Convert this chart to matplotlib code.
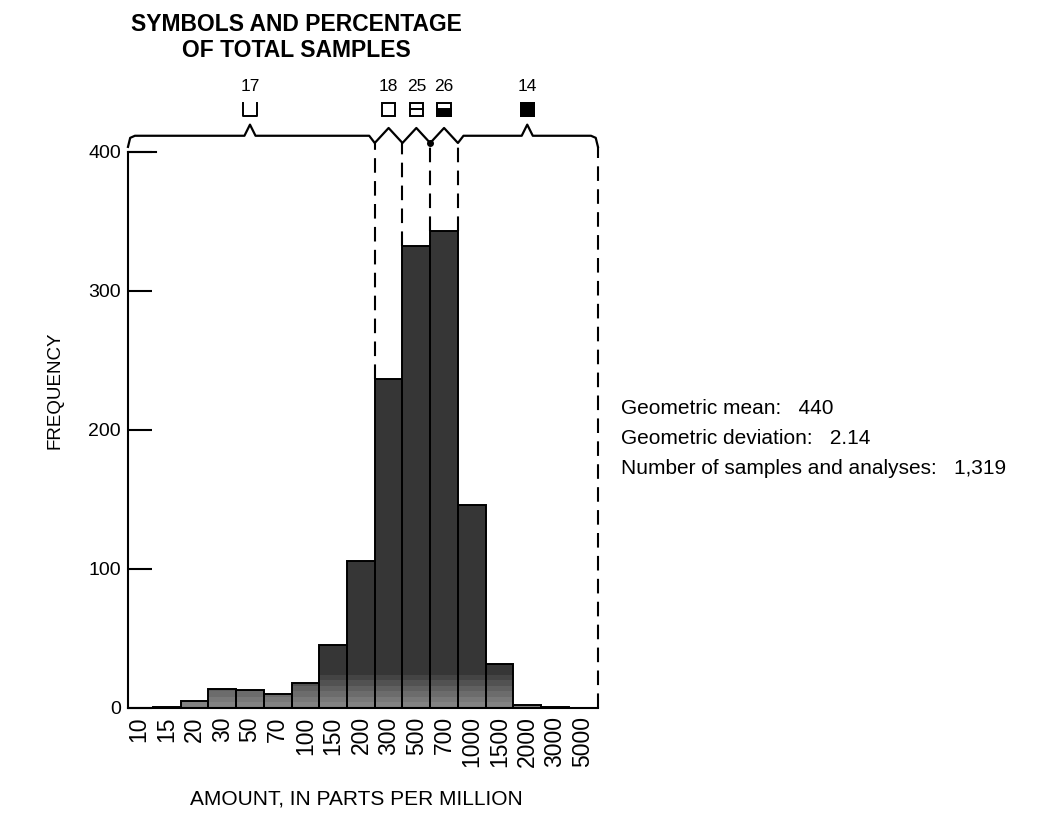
import matplotlib
matplotlib.use("Agg")
import matplotlib.pyplot as plt
from matplotlib.patches import Rectangle

plt.rcParams['font.family'] = ['Liberation Sans', 'DejaVu Sans']

# ---- data ----
bin_labels = ["10", "15", "20", "30", "50", "70", "100", "150", "200", "300",
              "500", "700", "1000", "1500", "2000", "3000", "5000"]
frequency = [0, 1, 5, 14, 13, 10, 18, 45, 106, 237, 332, 343, 146, 32, 2, 1, 0]
y_ticks = [0, 100, 200, 300, 400]
group_percent = ["17", "18", "25", "26", "14"]
group_edges = [-0.4, 8.5, 9.5, 10.5, 11.5, 16.55]   # class boundaries (bar index units)
stats_lines = ["Geometric mean:   440",
               "Geometric deviation:   2.14",
               "Number of samples and analyses:   1,319"]

fig = plt.figure(figsize=(10.43, 8.30), dpi=100)
ax = fig.add_axes([0.1227, 0.147, 0.4506, 0.670])

x = list(range(len(bin_labels)))
# halftone look: dark body fading to a lighter grey near the base
ax.bar(x, frequency, width=1.0, color="#363636", edgecolor="none", linewidth=0)
band_levels = [24, 20, 16, 12, 8, 4]
band_colors = ["#444444", "#525252", "#606060", "#6c6c6c", "#787878", "#828282"]
for lev, col in zip(band_levels, band_colors):
    ax.bar(x, [min(v, lev) for v in frequency], width=1.0, color=col,
           edgecolor="none", linewidth=0)
ax.bar(x, frequency, width=1.0, color="none", edgecolor="black", linewidth=1.4)

ax.set_xlim(group_edges[0], group_edges[-1])
ax.set_ylim(0, 400)

for s in ["top", "right"]:
    ax.spines[s].set_visible(False)
ax.spines["left"].set_linewidth(1.5)
ax.spines["bottom"].set_linewidth(1.5)

ax.set_yticks(y_ticks)
ax.set_yticklabels([str(v) for v in y_ticks], fontsize=14)
ax.tick_params(axis="y", direction="in", length=17, width=1.5, pad=5)
# long tick at top of frequency axis
ax.plot([group_edges[0], group_edges[0] + 1.0], [400, 400], color="black", lw=1.5, clip_on=False)

ax.set_xticks(x)
ax.set_xticklabels(bin_labels, rotation=90, fontsize=16.5)
ax.tick_params(axis="x", length=0, pad=6)

fig.text(0.342, 0.037, "AMOUNT, IN PARTS PER MILLION", ha="center", va="center", fontsize=15)
fig.text(0.053, 0.530, "FREQUENCY", ha="center", va="center", rotation=90, fontsize=13.5)

# ---- brace over the classes ----
yb = 411.6      # brace baseline
ypk = 419.6     # big peaks
yzu = 417.2     # zigzag peaks
yv = 406.4      # V points
yh = 403.6      # end hooks
L, R = group_edges[0], group_edges[-1]
bx = [L, L + 0.08, L + 0.25, 3.8, 4.0, 4.2, 8.3, 8.5, 9.0, 9.5, 10.0, 10.5, 11.0, 11.5,
      11.7, 13.8, 14.0, 14.2, R - 0.25, R - 0.08, R]
by = [yh, yb - 1.5, yb, yb, ypk, yb, yb, yv, yzu, yv, yzu, yv, yzu, yv,
      yb, yb, ypk, yb, yb, yb - 1.5, yh]
ax.plot(bx, by, color="black", lw=1.6, clip_on=False, solid_joinstyle="round")
ax.plot([10.5], [yv], marker="o", ms=4, color="black", clip_on=False)

# dashed dividers
for e in group_edges[1:-1]:
    i0 = int(e - 0.5)
    top = max(frequency[i0], frequency[i0 + 1])
    ax.plot([e, e], [top, yv], color="black", lw=1.5, ls=(0, (7, 4)), clip_on=False)
ax.plot([R, R], [0, yh], color="black", lw=1.5, ls=(0, (7, 4)), clip_on=False)

# percentage labels and symbols
centers = [4.0, 9.0, 10.0, 11.0, 14.0]
sw, sh = 0.48, 9.5
ysym = 430.5
for k, (c, p) in enumerate(zip(centers, group_percent)):
    ax.text(c, 447, p, ha="center", va="center", fontsize=12.5, clip_on=False)
    x0, y0 = c - sw / 2, ysym - sh / 2
    if k == 0:
        ax.plot([x0, x0, x0 + sw, x0 + sw], [y0 + sh, y0, y0, y0 + sh],
                color="black", lw=1.4, clip_on=False)
    else:
        ax.add_patch(Rectangle((x0, y0), sw, sh, facecolor="white", edgecolor="black",
                               lw=1.4, clip_on=False))
        if k == 2:
            ax.plot([x0, x0 + sw], [y0 + sh / 2, y0 + sh / 2], color="black", lw=1.4, clip_on=False)
        elif k == 3:
            ax.add_patch(Rectangle((x0, y0), sw, sh / 2, facecolor="black", edgecolor="black",
                                   lw=1.4, clip_on=False))
        elif k == 4:
            ax.add_patch(Rectangle((x0, y0), sw, sh, facecolor="black", edgecolor="black",
                                   lw=1.4, clip_on=False))

fig.text(0.284, 0.984, "SYMBOLS AND PERCENTAGE\nOF TOTAL SAMPLES", ha="center", va="top",
         fontsize=16.5, fontweight="bold", linespacing=1.15)

for i, line in enumerate(stats_lines):
    fig.text(0.595, 0.508 - i * 0.036, line, ha="left", va="center", fontsize=15)

fig.savefig("out.png", dpi=100)
